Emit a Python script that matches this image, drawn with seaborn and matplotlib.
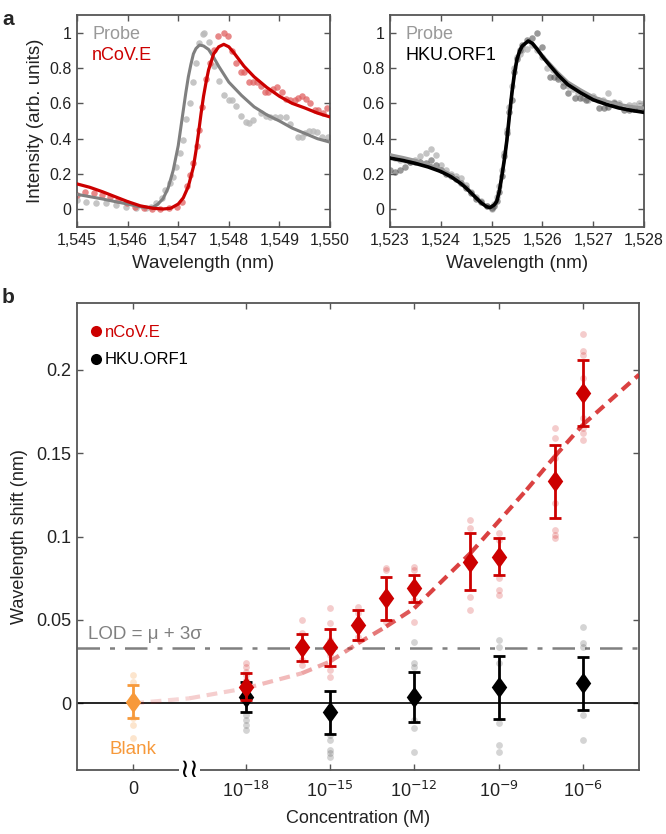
import numpy as np
import pandas as pd
import matplotlib
matplotlib.use("Agg")
import matplotlib.pyplot as plt
import matplotlib.transforms as mtransforms
from matplotlib.lines import Line2D
from matplotlib.path import Path
import seaborn as sns

# ---------------- Panel a (left): Probe vs nCoV.E ----------------
probe1_dot_wl = [1545.0, 1545.18, 1545.38, 1545.58, 1545.78, 1545.97, 1546.17, 1546.37, 1546.47,
                 1546.57, 1546.67, 1546.73, 1546.83, 1546.9, 1546.96, 1547.03, 1547.09, 1547.16,
                 1547.23, 1547.29, 1547.36, 1547.42, 1547.48, 1547.5, 1547.6, 1547.7, 1547.8,
                 1547.91, 1548.0, 1548.07, 1548.15, 1548.24, 1548.33, 1548.4, 1548.48, 1548.64,
                 1548.73, 1548.82, 1548.92, 1549.02, 1549.12, 1549.2, 1549.36, 1549.45, 1549.5,
                 1549.58, 1549.66, 1549.74, 1549.85, 1549.95]
probe1_dot_int = [0.053, 0.043, 0.038, 0.034, 0.024, 0.011, 0.006, 0.006, 0.015,
                  0.034, 0.062, 0.11, 0.148, 0.185, 0.24, 0.32, 0.39, 0.51,
                  0.60, 0.72, 0.83, 0.94, 0.99, 1.0, 0.95, 0.81, 0.725,
                  0.65, 0.62, 0.62, 0.583, 0.53, 0.495, 0.49, 0.504, 0.545,
                  0.53, 0.52, 0.52, 0.52, 0.52, 0.485, 0.41, 0.41, 0.43,
                  0.445, 0.445, 0.44, 0.41, 0.41]

ncov_dot_wl = [1545.0, 1545.16, 1545.33, 1545.49, 1545.66, 1545.82, 1545.99, 1546.15, 1546.32,
               1546.48, 1546.64, 1546.81, 1546.97, 1547.07, 1547.17, 1547.24, 1547.3, 1547.37,
               1547.41, 1547.47, 1547.55, 1547.63, 1547.7, 1547.79, 1547.9, 1547.99, 1548.06,
               1548.15, 1548.25, 1548.3, 1548.39, 1548.47, 1548.56, 1548.63, 1548.72, 1548.78,
               1548.88, 1548.96, 1549.05, 1549.13, 1549.2, 1549.3, 1549.37, 1549.45, 1549.53,
               1549.61, 1549.7, 1549.77, 1549.86, 1549.94]
ncov_dot_int = [0.081, 0.10, 0.095, 0.081, 0.068, 0.053, 0.034, 0.015, 0.006,
                0.002, 0.002, 0.006, 0.015, 0.044, 0.13, 0.195, 0.26, 0.356,
                0.45, 0.58, 0.74, 0.83, 0.90, 0.98, 1.0, 0.98, 0.895,
                0.83, 0.775, 0.775, 0.72, 0.72, 0.72, 0.70, 0.665, 0.665,
                0.68, 0.69, 0.665, 0.625, 0.62, 0.62, 0.63, 0.64, 0.625,
                0.60, 0.565, 0.565, 0.545, 0.575]

probe1_fit_wl = [1545.0, 1545.25, 1545.5, 1545.75, 1546.0, 1546.2, 1546.35, 1546.5, 1546.6,
                 1546.7, 1546.8, 1546.9, 1547.0, 1547.05, 1547.1, 1547.15, 1547.2, 1547.25,
                 1547.3, 1547.35, 1547.42, 1547.5, 1547.6, 1547.7, 1547.8, 1547.9, 1548.0,
                 1548.25, 1548.5, 1548.75, 1549.0, 1549.25, 1549.5, 1549.75, 1550.0]
probe1_fit_int = [0.085, 0.072, 0.059, 0.044, 0.030, 0.017, 0.010, 0.012, 0.030,
                  0.060, 0.12, 0.22, 0.36, 0.46, 0.56, 0.66, 0.75, 0.82,
                  0.88, 0.91, 0.93, 0.925, 0.905, 0.86, 0.81, 0.765, 0.72,
                  0.645, 0.58, 0.535, 0.50, 0.46, 0.43, 0.40, 0.38]

ncov_fit_wl = [1545.0, 1545.25, 1545.5, 1545.75, 1546.0, 1546.25, 1546.5, 1546.7, 1546.85,
               1547.0, 1547.1, 1547.2, 1547.3, 1547.35, 1547.4, 1547.45, 1547.5, 1547.55,
               1547.6, 1547.7, 1547.8, 1547.9, 1548.0, 1548.1, 1548.3, 1548.5, 1548.75,
               1549.0, 1549.25, 1549.5, 1549.75, 1550.0]
ncov_fit_int = [0.144, 0.125, 0.10, 0.072, 0.044, 0.020, 0.006, 0.002, 0.006,
                0.030, 0.065, 0.13, 0.24, 0.33, 0.43, 0.54, 0.64, 0.72,
                0.79, 0.88, 0.92, 0.934, 0.92, 0.886, 0.81, 0.75, 0.69,
                0.64, 0.60, 0.574, 0.545, 0.523]

# ---------------- Panel a (right): Probe vs HKU.ORF1 ----------------
hku_dot_wl = [1523.0, 1523.1, 1523.2, 1523.3, 1523.4, 1523.5, 1523.6, 1523.7, 1523.8, 1523.9,
              1524.0, 1524.1, 1524.2, 1524.3, 1524.4, 1524.5, 1524.6, 1524.7, 1524.8, 1524.9,
              1525.0, 1525.05, 1525.1, 1525.15, 1525.2, 1525.25, 1525.3, 1525.35, 1525.4, 1525.45,
              1525.5, 1525.55, 1525.6, 1525.7, 1525.8, 1525.9, 1526.0, 1526.15, 1526.23, 1526.3,
              1526.4, 1526.5, 1526.65, 1526.74, 1526.85, 1527.0, 1527.11, 1527.21, 1527.3, 1527.4,
              1527.5, 1527.6, 1527.7, 1527.8, 1527.9, 1528.0]
hku_dot_int = [0.22, 0.21, 0.22, 0.24, 0.27, 0.27, 0.27, 0.26, 0.28, 0.25,
               0.22, 0.20, 0.19, 0.17, 0.15, 0.12, 0.09, 0.06, 0.04, 0.02,
               0.01, 0.02, 0.05, 0.10, 0.19, 0.30, 0.43, 0.55, 0.62, 0.78,
               0.85, 0.90, 0.93, 0.96, 0.97, 1.0, 0.92, 0.75, 0.75, 0.74,
               0.70, 0.66, 0.63, 0.63, 0.62, 0.63, 0.575, 0.575, 0.58, 0.60,
               0.59, 0.56, 0.56, 0.57, 0.57, 0.58]

probe2_dot_wl = [1523.0, 1523.1, 1523.2, 1523.3, 1523.4, 1523.5, 1523.6, 1523.7, 1523.8, 1523.9,
                 1524.0, 1524.1, 1524.2, 1524.3, 1524.4, 1524.5, 1524.6, 1524.7, 1524.8, 1524.9,
                 1525.0, 1525.05, 1525.1, 1525.15, 1525.2, 1525.25, 1525.3, 1525.35, 1525.4, 1525.45,
                 1525.5, 1525.55, 1525.6, 1525.7, 1525.8, 1525.9, 1526.0, 1526.1, 1526.2, 1526.3,
                 1526.4, 1526.5, 1526.6, 1526.7, 1526.8, 1526.9, 1527.0, 1527.1, 1527.2, 1527.3,
                 1527.4, 1527.5, 1527.6, 1527.7, 1527.8, 1527.9, 1528.0]
probe2_dot_int = [0.30, 0.29, 0.28, 0.28, 0.27, 0.28, 0.30, 0.32, 0.34, 0.31,
                  0.25, 0.22, 0.20, 0.19, 0.18, 0.14, 0.10, 0.07, 0.05, 0.02,
                  0.00, 0.03, 0.07, 0.13, 0.22, 0.32, 0.45, 0.58, 0.70, 0.80,
                  0.86, 0.88, 0.90, 0.91, 0.93, 0.90, 0.86, 0.80, 0.79, 0.75,
                  0.72, 0.70, 0.68, 0.66, 0.63, 0.62, 0.64, 0.62, 0.62, 0.66,
                  0.61, 0.60, 0.58, 0.59, 0.59, 0.60, 0.60]

hku_fit_wl = [1523.0, 1523.25, 1523.5, 1523.75, 1524.0, 1524.2, 1524.4, 1524.5, 1524.6,
              1524.7, 1524.8, 1524.9, 1524.97, 1525.05, 1525.1, 1525.15, 1525.2, 1525.25,
              1525.3, 1525.35, 1525.4, 1525.45, 1525.5, 1525.55, 1525.6, 1525.72, 1525.8,
              1525.9, 1526.0, 1526.1, 1526.3, 1526.5, 1526.75, 1527.0, 1527.25, 1527.5,
              1527.75, 1528.0]
hku_fit_int = [0.29, 0.277, 0.26, 0.24, 0.214, 0.185, 0.145, 0.12, 0.092,
               0.063, 0.036, 0.015, 0.010, 0.025, 0.044, 0.10, 0.186, 0.28,
               0.39, 0.53, 0.66, 0.77, 0.85, 0.895, 0.924, 0.953, 0.94,
               0.905, 0.865, 0.83, 0.763, 0.706, 0.66, 0.62, 0.595, 0.574,
               0.56, 0.549]
probe2_fit_int = [0.31, 0.295, 0.278, 0.256, 0.228, 0.197, 0.155, 0.128, 0.098,
                  0.067, 0.039, 0.017, 0.011, 0.026, 0.046, 0.10, 0.186, 0.28,
                  0.39, 0.53, 0.66, 0.77, 0.85, 0.895, 0.924, 0.953, 0.942,
                  0.91, 0.872, 0.84, 0.777, 0.722, 0.678, 0.638, 0.614, 0.595,
                  0.583, 0.574]

# ---------------- Panel b: concentration response ----------------
conc_ticks = [-22, -18, -15, -12, -9, -6]          # log10(M); -22 stands for the blank
conc_labels = ["0", "10$^{-18}$", "10$^{-15}$", "10$^{-12}$", "10$^{-9}$", "10$^{-6}$"]

ncov_logc = [-18, -16, -15, -14, -13, -12, -10, -9, -7, -6]
ncov_mean = [0.010, 0.0335, 0.0335, 0.047, 0.063, 0.069, 0.085, 0.088, 0.133, 0.186]
ncov_err = [0.008, 0.008, 0.011, 0.009, 0.013, 0.008, 0.017, 0.011, 0.022, 0.020]

hku_logc = [-18, -15, -12, -9, -6]
hku_mean = [0.004, -0.0054, 0.0036, 0.0096, 0.012]
hku_err = [0.009, 0.013, 0.015, 0.019, 0.016]

blank_logc = [-22]
blank_mean = [0.001]
blank_err = [0.010]

ncov_raw_logc = [-18, -18, -18, -18, -18, -18,
                 -16, -16, -16, -16,
                 -15, -15, -15, -15, -15, -15,
                 -14, -14, -14, -14,
                 -13, -13, -13, -13,
                 -12, -12, -12, -12, -12,
                 -10, -10, -10, -10,
                 -9, -9, -9, -9, -9,
                 -7, -7, -7, -7, -7, -7, -7,
                 -6, -6, -6, -6, -6, -6, -6, -6]
ncov_raw_val = [0.024, 0.022, 0.019, 0.017, 0.014, 0.005,
                0.050, 0.042, 0.026, 0.023,
                0.057, 0.048, 0.038, 0.029, 0.020, 0.016,
                0.058, 0.054, 0.045, 0.040,
                0.081, 0.080, 0.060, 0.049,
                0.082, 0.080, 0.066, 0.062, 0.049,
                0.110, 0.105, 0.064, 0.056,
                0.102, 0.098, 0.075, 0.068, 0.065,
                0.165, 0.159, 0.147, 0.120, 0.104, 0.101, 0.099,
                0.2215, 0.211, 0.209, 0.195, 0.171, 0.165, 0.162, 0.158]

hku_raw_logc = [-18, -18, -18, -18,
                -15, -15, -15, -15, -15,
                -12, -12, -12, -12, -12, -12,
                -9, -9, -9, -9, -9, -9,
                -6, -6, -6, -6, -6]
hku_raw_val = [-0.007, -0.010, -0.013, -0.016,
               -0.019, -0.022, -0.028, -0.030, -0.032,
               0.037, 0.024, 0.022, -0.010, -0.015, -0.029,
               0.038, 0.034, 0.024, -0.012, -0.025, -0.029,
               0.046, 0.036, 0.034, -0.007, -0.022]

blank_raw_logc = [-22, -22, -22, -22, -22]
blank_raw_val = [0.017, 0.013, -0.009, -0.013, -0.021]

fit_logc = [-22, -20, -18, -16, -15, -14, -13, -12, -10, -8, -7, -6, -4]
fit_val = [0.000, 0.003, 0.009, 0.018, 0.025, 0.036, 0.046, 0.057, 0.090, 0.128, 0.148, 0.167, 0.197]

lod_value = 0.033

# ---------------- Styling ----------------
RED = "#CC0000"
RED_DOT = "#E06060"
GRAY_LINE = "#808080"
ORANGE = "#F7993A"
SPINE = "#555555"

sns.set_theme(style="ticks")
plt.rcParams["font.family"] = ["Liberation Sans", "DejaVu Sans"]
plt.rcParams["axes.edgecolor"] = SPINE
plt.rcParams["axes.linewidth"] = 1.3
plt.rcParams["xtick.direction"] = "in"
plt.rcParams["ytick.direction"] = "in"
plt.rcParams["xtick.color"] = SPINE
plt.rcParams["ytick.color"] = SPINE
plt.rcParams["xtick.labelcolor"] = "#222222"
plt.rcParams["ytick.labelcolor"] = "#222222"

fig = plt.figure(figsize=(6.66, 8.34), dpi=100)
axL = fig.add_axes([0.1156, 0.7278, 0.380, 0.2542])
axR = fig.add_axes([0.5856, 0.7278, 0.3814, 0.2542])
axB = fig.add_axes([0.1156, 0.0767, 0.8439, 0.5600])

def style_ax(ax, labelsize):
    ax.tick_params(which="both", top=True, right=True, length=4, width=1.0,
                   labelsize=labelsize, pad=4)

# ---- left panel a ----
df = pd.DataFrame({"wl": probe1_dot_wl, "I": probe1_dot_int})
sns.scatterplot(data=df, x="wl", y="I", ax=axL, color="#BBBBBB", s=22, linewidth=0, alpha=0.85, zorder=2)
df = pd.DataFrame({"wl": ncov_dot_wl, "I": ncov_dot_int})
sns.scatterplot(data=df, x="wl", y="I", ax=axL, color=RED_DOT, s=22, linewidth=0, alpha=0.75, zorder=2)
df = pd.DataFrame({"wl": probe1_fit_wl, "I": probe1_fit_int})
sns.lineplot(data=df, x="wl", y="I", ax=axL, color=GRAY_LINE, linewidth=2.2, zorder=3)
df = pd.DataFrame({"wl": ncov_fit_wl, "I": ncov_fit_int})
sns.lineplot(data=df, x="wl", y="I", ax=axL, color=RED, linewidth=2.3, zorder=4)
axL.set_xlim(1545, 1550)
axL.set_ylim(-0.1, 1.1)
axL.set_xticks([1545, 1546, 1547, 1548, 1549, 1550])
axL.set_xticklabels(["1,545", "1,546", "1,547", "1,548", "1,549", "1,550"])
axL.set_yticks([0, 0.2, 0.4, 0.6, 0.8, 1.0])
axL.set_yticklabels(["0", "0.2", "0.4", "0.6", "0.8", "1"])
axL.set_xlabel("Wavelength (nm)", fontsize=13.5, color="#222222", labelpad=5)
axL.set_ylabel("Intensity (arb. units)", fontsize=13.5, color="#222222", labelpad=4)
style_ax(axL, 11.5)
axL.text(0.06, 0.95, "Probe", transform=axL.transAxes, color="#999999", fontsize=13, va="top")
axL.text(0.06, 0.85, "nCoV.E", transform=axL.transAxes, color=RED, fontsize=13, va="top")

# ---- right panel a ----
df = pd.DataFrame({"wl": probe2_dot_wl, "I": probe2_dot_int})
sns.scatterplot(data=df, x="wl", y="I", ax=axR, color="#B0B0B0", s=22, linewidth=0, alpha=0.75, zorder=2)
df = pd.DataFrame({"wl": hku_dot_wl, "I": hku_dot_int})
sns.scatterplot(data=df, x="wl", y="I", ax=axR, color="#555555", s=22, linewidth=0, alpha=0.6, zorder=2)
df = pd.DataFrame({"wl": hku_fit_wl, "I": probe2_fit_int})
sns.lineplot(data=df, x="wl", y="I", ax=axR, color="#999999", linewidth=2.0, zorder=3)
df = pd.DataFrame({"wl": hku_fit_wl, "I": hku_fit_int})
sns.lineplot(data=df, x="wl", y="I", ax=axR, color="black", linewidth=2.6, zorder=4)
axR.set_xlim(1523, 1528)
axR.set_ylim(-0.1, 1.1)
axR.set_xticks([1523, 1524, 1525, 1526, 1527, 1528])
axR.set_xticklabels(["1,523", "1,524", "1,525", "1,526", "1,527", "1,528"])
axR.set_yticks([0, 0.2, 0.4, 0.6, 0.8, 1.0])
axR.set_yticklabels(["0", "0.2", "0.4", "0.6", "0.8", "1"])
axR.set_xlabel("Wavelength (nm)", fontsize=13.5, color="#222222", labelpad=5)
axR.set_ylabel("")
style_ax(axR, 11.5)
axR.text(0.06, 0.95, "Probe", transform=axR.transAxes, color="#999999", fontsize=13, va="top")
axR.text(0.06, 0.85, "HKU.ORF1", transform=axR.transAxes, color="black", fontsize=13, va="top")

# ---- panel b ----
diamond = Path([(0, 1), (0.72, 0), (0, -1), (-0.72, 0), (0, 1)],
               [Path.MOVETO, Path.LINETO, Path.LINETO, Path.LINETO, Path.CLOSEPOLY])

axB.axhline(0, color="black", linewidth=1.2, zorder=1)
axB.axhline(lod_value, color=GRAY_LINE, linewidth=1.8, linestyle=(0, (9, 4, 2, 4)), zorder=1)

df = pd.DataFrame({"c": ncov_raw_logc, "v": ncov_raw_val})
sns.scatterplot(data=df, x="c", y="v", ax=axB, color=RED, s=24, linewidth=0, alpha=0.2, zorder=2)
df = pd.DataFrame({"c": hku_raw_logc, "v": hku_raw_val})
sns.scatterplot(data=df, x="c", y="v", ax=axB, color="#555555", s=24, linewidth=0, alpha=0.25, zorder=2)
df = pd.DataFrame({"c": blank_raw_logc, "v": blank_raw_val})
sns.scatterplot(data=df, x="c", y="v", ax=axB, color=ORANGE, s=24, linewidth=0, alpha=0.25, zorder=2)

# fitted curve, fading toward low concentration
alphas = [0.18, 0.22, 0.3, 0.4, 0.5, 0.6, 0.75, 0.85, 0.85, 0.85, 0.85, 0.85]
for i in range(len(fit_logc) - 1):
    axB.plot(fit_logc[i:i + 2], fit_val[i:i + 2], color="#D42020", alpha=alphas[i],
             linewidth=3.0, linestyle=(0, (2.6, 1.6)), solid_capstyle="butt", zorder=3)

axB.errorbar(blank_logc, blank_mean, yerr=blank_err, fmt="none", ecolor=ORANGE,
             elinewidth=2, capsize=4, capthick=2, zorder=4)
sns.scatterplot(x=blank_logc, y=blank_mean, ax=axB, color=ORANGE, marker=diamond, s=240,
                linewidth=0, zorder=5)
axB.errorbar(hku_logc, hku_mean, yerr=hku_err, fmt="none", ecolor="black",
             elinewidth=2, capsize=4, capthick=2, zorder=4)
sns.scatterplot(x=hku_logc, y=hku_mean, ax=axB, color="black", marker=diamond, s=240,
                linewidth=0, zorder=5)
axB.errorbar(ncov_logc, ncov_mean, yerr=ncov_err, fmt="none", ecolor=RED,
             elinewidth=2, capsize=4, capthick=2, zorder=6)
sns.scatterplot(x=ncov_logc, y=ncov_mean, ax=axB, color=RED, marker=diamond, s=240,
                linewidth=0, zorder=7)

axB.set_xlim(-24, -4)
axB.set_ylim(-0.04, 0.24)
axB.set_xticks(conc_ticks)
axB.set_xticklabels(conc_labels)
axB.set_yticks([0, 0.05, 0.1, 0.15, 0.2])
axB.set_yticklabels(["0", "0.05", "0.1", "0.15", "0.2"])
axB.set_xlabel("Concentration (M)", fontsize=13, color="#222222", labelpad=6)
axB.set_ylabel("Wavelength shift (nm)", fontsize=13, color="#222222", labelpad=6)
style_ax(axB, 13)
axB.tick_params(axis="x", pad=8)

axB.text(-23.6, 0.041, "LOD = μ + 3σ", color=GRAY_LINE, fontsize=13.5, va="center", ha="left")
axB.text(-22, -0.0275, "Blank", color=ORANGE, fontsize=13.5, va="center", ha="center")

# axis break mark
blend = mtransforms.blended_transform_factory(axB.transData, axB.transAxes)
axB.text(-20, 0.0, "≀≀", transform=blend, ha="center", va="center", fontsize=19,
         color="black", family=["DejaVu Sans"],
         bbox=dict(boxstyle="square,pad=0.02", fc="white", ec="none"), zorder=10, clip_on=False)

handles = [Line2D([0], [0], marker="o", color="none", markerfacecolor=RED, markeredgecolor="none", markersize=8),
           Line2D([0], [0], marker="o", color="none", markerfacecolor="black", markeredgecolor="none", markersize=8)]
leg = axB.legend(handles, ["nCoV.E", "HKU.ORF1"], loc="upper left", bbox_to_anchor=(0.0, 0.985),
                 frameon=False, handlelength=0.5, handletextpad=0.25, labelspacing=0.75,
                 fontsize=12, labelcolor=[RED, "black"])

fig.text(0.003, 0.988, "a", fontsize=15, fontweight="bold", va="top")
fig.text(0.003, 0.655, "b", fontsize=15, fontweight="bold", va="top")

fig.savefig("out.png", dpi=100)
